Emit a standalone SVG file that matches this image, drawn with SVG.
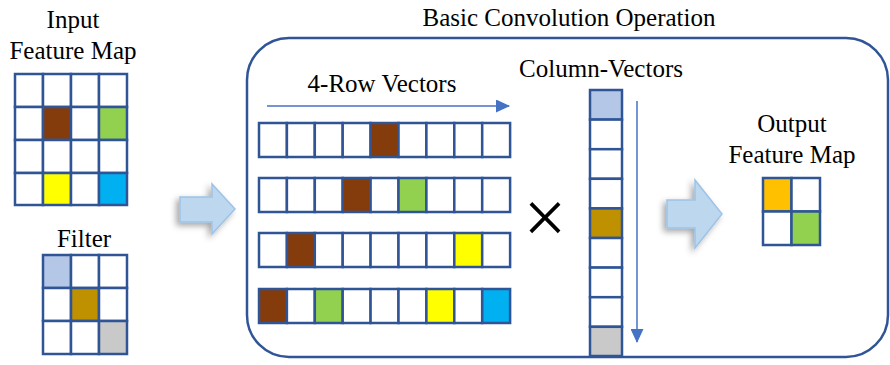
<svg xmlns="http://www.w3.org/2000/svg" width="890" height="365" viewBox="0 0 890 365">
<style>
.t{font-family:"Liberation Serif","Times New Roman",serif;font-size:25px;fill:#000;text-anchor:middle}
.c{fill:#fff;stroke:#2F5597;stroke-width:2.5}
.br{fill:#843C0C}.gr{fill:#92D050}.ye{fill:#FFFF00}.bl{fill:#00B0F0}
.lb{fill:#B4C7E7}.go{fill:#BF9000}.gy{fill:#C9C9C9}.or{fill:#FFC000}
.ba{fill:#BDD7EE;stroke:#9DC3E6;stroke-width:1.5;filter:url(#sh)}
.ar{stroke:#4472C4;stroke-width:1.5;fill:none;marker-end:url(#ah)}
</style>
<defs>
<filter id="sh" x="-40%" y="-40%" width="180%" height="180%">
<feDropShadow dx="-3" dy="3" stdDeviation="3" flood-color="#000" flood-opacity="0.35"/>
</filter>
<marker id="ah" markerUnits="userSpaceOnUse" markerWidth="14" markerHeight="13" refX="13" refY="6.5" orient="auto">
<path d="M0,0 L14,6.5 L0,13 Z" fill="#4472C4"/>
</marker>
</defs>

<g id="input-map">
<text class="t" x="73" y="28">Input</text>
<text class="t" x="73" y="59">Feature Map</text>
<rect class="c" x="15" y="74" width="28" height="33"/><rect class="c" x="43" y="74" width="28" height="33"/><rect class="c" x="71" y="74" width="28" height="33"/><rect class="c" x="99" y="74" width="28" height="33"/>
<rect class="c" x="15" y="107" width="28" height="33"/><rect class="c br" x="43" y="107" width="28" height="33"/><rect class="c" x="71" y="107" width="28" height="33"/><rect class="c gr" x="99" y="107" width="28" height="33"/>
<rect class="c" x="15" y="140" width="28" height="33"/><rect class="c" x="43" y="140" width="28" height="33"/><rect class="c" x="71" y="140" width="28" height="33"/><rect class="c" x="99" y="140" width="28" height="33"/>
<rect class="c" x="15" y="173" width="28" height="32"/><rect class="c ye" x="43" y="173" width="28" height="32"/><rect class="c" x="71" y="173" width="28" height="32"/><rect class="c bl" x="99" y="173" width="28" height="32"/>
</g>

<g id="filter">
<text class="t" x="84" y="247">Filter</text>
<rect class="c lb" x="43" y="255" width="28" height="33"/><rect class="c" x="71" y="255" width="28" height="33"/><rect class="c" x="99" y="255" width="28" height="33"/>
<rect class="c" x="43" y="288" width="28" height="33"/><rect class="c go" x="71" y="288" width="28" height="33"/><rect class="c" x="99" y="288" width="28" height="33"/>
<rect class="c" x="43" y="321" width="28" height="33"/><rect class="c" x="71" y="321" width="28" height="33"/><rect class="c gy" x="99" y="321" width="28" height="33"/>
</g>

<g id="basic-convolution">
<text class="t" x="569" y="26">Basic Convolution Operation</text>
<rect x="247" y="38" width="641" height="319" rx="42" ry="42" fill="none" stroke="#2F5597" stroke-width="2.5"/>
</g>

<g id="row-vectors">
<text class="t" x="382" y="92">4-Row Vectors</text>
<g id="row1">
<rect class="c" x="259" y="123" width="27.9" height="34"/><rect class="c" x="286.9" y="123" width="27.9" height="34"/><rect class="c" x="314.8" y="123" width="27.9" height="34"/><rect class="c" x="342.7" y="123" width="27.9" height="34"/><rect class="c br" x="370.6" y="123" width="27.9" height="34"/><rect class="c" x="398.5" y="123" width="27.9" height="34"/><rect class="c" x="426.4" y="123" width="27.9" height="34"/><rect class="c" x="454.3" y="123" width="27.9" height="34"/><rect class="c" x="482.2" y="123" width="27.9" height="34"/>
</g>
<g id="row2">
<rect class="c" x="259" y="178" width="27.9" height="34"/><rect class="c" x="286.9" y="178" width="27.9" height="34"/><rect class="c" x="314.8" y="178" width="27.9" height="34"/><rect class="c br" x="342.7" y="178" width="27.9" height="34"/><rect class="c" x="370.6" y="178" width="27.9" height="34"/><rect class="c gr" x="398.5" y="178" width="27.9" height="34"/><rect class="c" x="426.4" y="178" width="27.9" height="34"/><rect class="c" x="454.3" y="178" width="27.9" height="34"/><rect class="c" x="482.2" y="178" width="27.9" height="34"/>
</g>
<g id="row3">
<rect class="c" x="259" y="233" width="27.9" height="34"/><rect class="c br" x="286.9" y="233" width="27.9" height="34"/><rect class="c" x="314.8" y="233" width="27.9" height="34"/><rect class="c" x="342.7" y="233" width="27.9" height="34"/><rect class="c" x="370.6" y="233" width="27.9" height="34"/><rect class="c" x="398.5" y="233" width="27.9" height="34"/><rect class="c" x="426.4" y="233" width="27.9" height="34"/><rect class="c ye" x="454.3" y="233" width="27.9" height="34"/><rect class="c" x="482.2" y="233" width="27.9" height="34"/>
</g>
<g id="row4">
<rect class="c br" x="259" y="289" width="27.9" height="34"/><rect class="c" x="286.9" y="289" width="27.9" height="34"/><rect class="c gr" x="314.8" y="289" width="27.9" height="34"/><rect class="c" x="342.7" y="289" width="27.9" height="34"/><rect class="c" x="370.6" y="289" width="27.9" height="34"/><rect class="c" x="398.5" y="289" width="27.9" height="34"/><rect class="c ye" x="426.4" y="289" width="27.9" height="34"/><rect class="c" x="454.3" y="289" width="27.9" height="34"/><rect class="c bl" x="482.2" y="289" width="27.9" height="34"/>
</g>
</g>

<g id="times">
<text x="545" y="243" font-family="'Liberation Serif','Times New Roman',serif" font-size="76" text-anchor="middle" fill="#000">×</text>
</g>

<g id="column-vector">
<text class="t" x="601" y="77">Column-Vectors</text>
<rect class="c lb" x="590" y="90" width="32" height="29.6"/>
<rect class="c" x="590" y="119.6" width="32" height="29.6"/>
<rect class="c" x="590" y="149.2" width="32" height="29.6"/>
<rect class="c" x="590" y="178.8" width="32" height="29.6"/>
<rect class="c go" x="590" y="208.4" width="32" height="29.6"/>
<rect class="c" x="590" y="238" width="32" height="29.6"/>
<rect class="c" x="590" y="267.6" width="32" height="29.6"/>
<rect class="c" x="590" y="297.2" width="32" height="29.6"/>
<rect class="c gy" x="590" y="326.8" width="32" height="29.2"/>
</g>

<g id="output-map">
<text class="t" x="792" y="132">Output</text>
<text class="t" x="792" y="163">Feature Map</text>
<rect class="c or" x="763" y="178" width="28.5" height="33.5"/><rect class="c" x="791.5" y="178" width="28.5" height="33.5"/>
<rect class="c" x="763" y="211.5" width="28.5" height="33.5"/><rect class="c gr" x="791.5" y="211.5" width="28.5" height="33.5"/>
</g>

<g id="connectors">
<line class="ar" x1="267" y1="106" x2="509" y2="106"/>
<line class="ar" x1="637" y1="101" x2="637" y2="342"/>
<path class="ba" d="M180,197 L212,197 L212,184 L235,209 L212,234 L212,222 L180,222 Z"/>
<path class="ba" d="M667,200 L695,200 L695,180 L722,214 L695,248 L695,228 L667,228 Z"/>
</g>
</svg>
